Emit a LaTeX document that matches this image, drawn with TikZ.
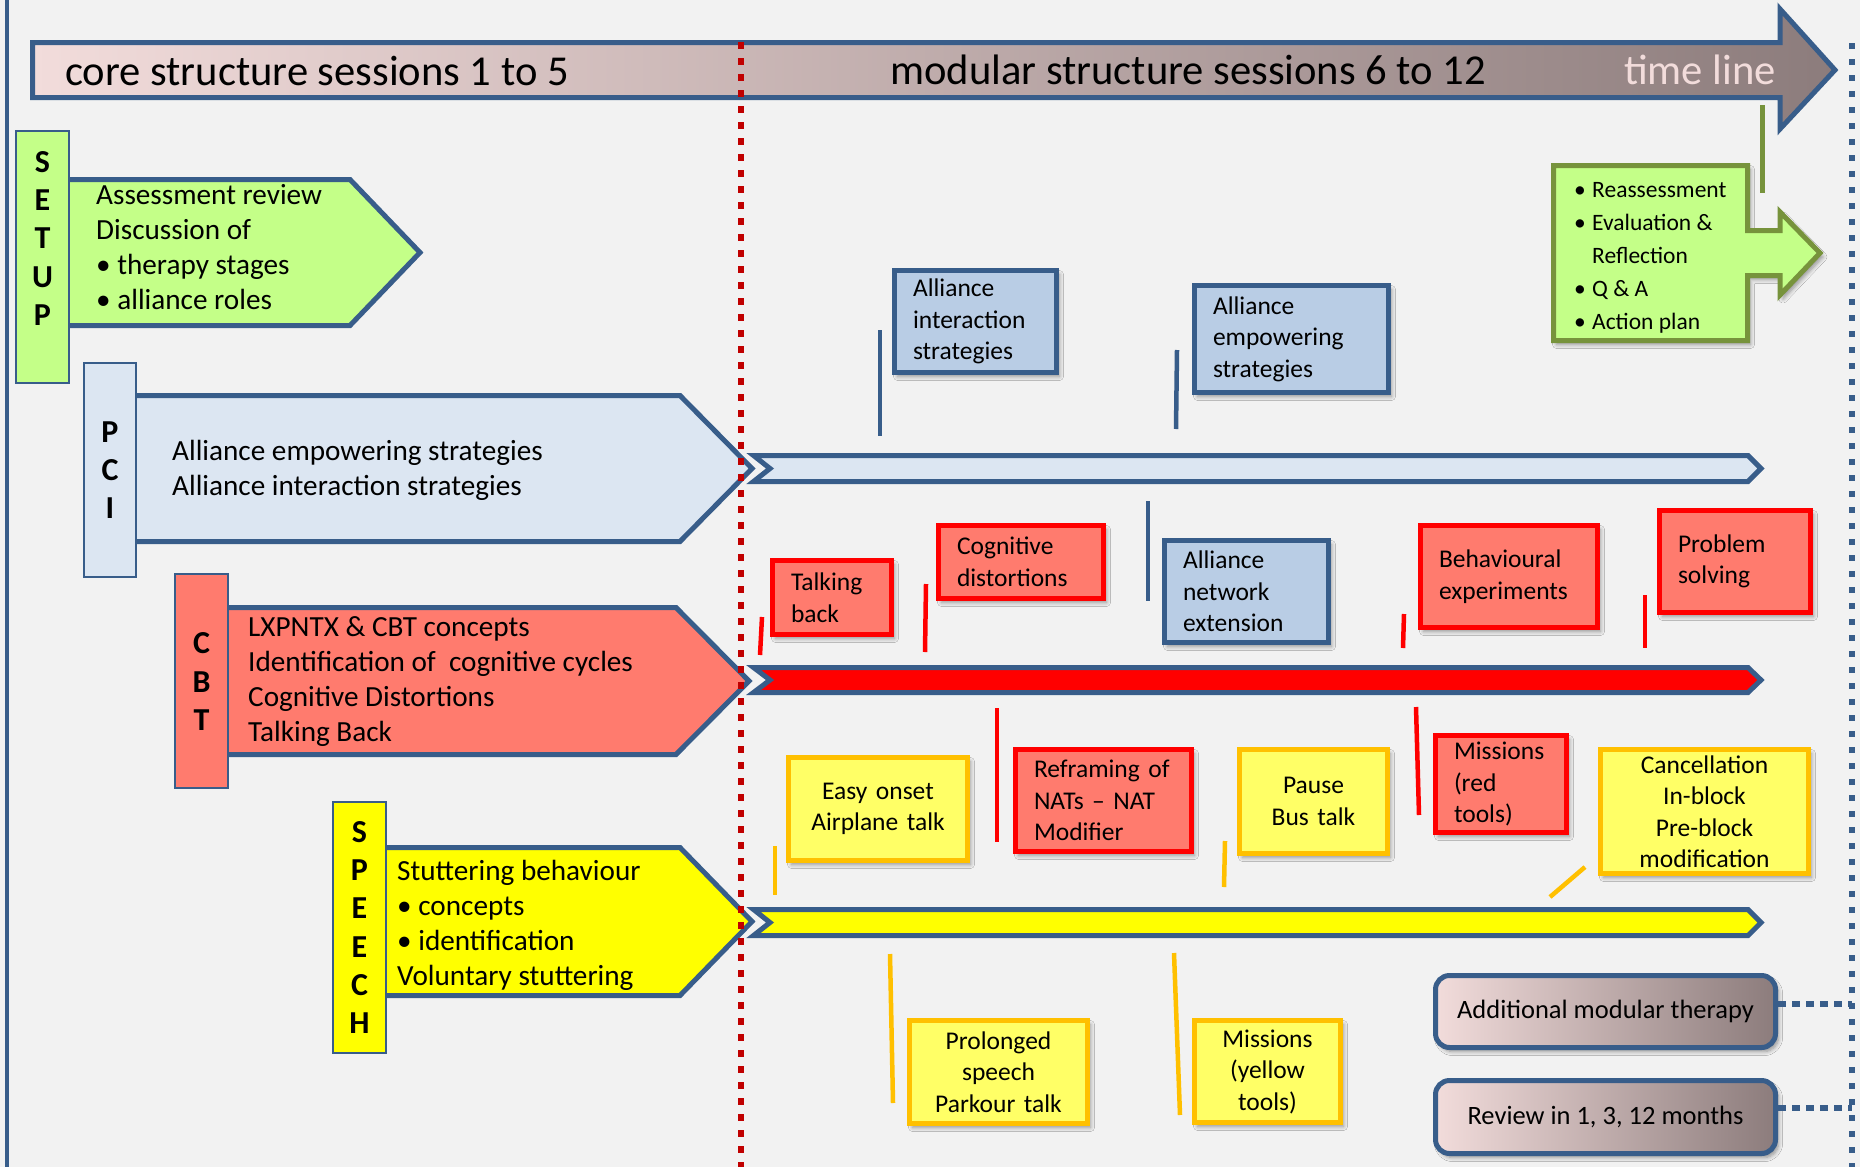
\documentclass[tikz,border=0pt]{standalone}
\usepackage{fontspec}
\setmainfont{Carlito}
\usetikzlibrary{shadows.blur}
\definecolor{bg}{HTML}{F2F2F2}
\definecolor{bblue}{HTML}{385D8A}
\definecolor{lblue}{HTML}{DCE6F2}
\definecolor{mblue}{HTML}{B9CDE5}
\definecolor{lgreen}{HTML}{C4FF88}
\definecolor{olive}{HTML}{77933C}
\definecolor{salmon}{HTML}{FF7B6E}
\definecolor{bred}{HTML}{FF0000}
\definecolor{dred}{HTML}{C00000}
\definecolor{lyellow}{HTML}{FFFF66}
\definecolor{byellow}{HTML}{FFFF00}
\definecolor{orangeb}{HTML}{FFC000}
\definecolor{gradL}{HTML}{F2DCDB}
\definecolor{gradR}{HTML}{8C7C7C}
\begin{document}
\begin{tikzpicture}[x=1pt, y=-1pt, line join=miter,
  shad/.style={blur shadow={shadow xshift=3pt, shadow yshift=-4pt, shadow blur steps=6, shadow blur radius=4pt, shadow opacity=40}},
  bbox/.style={draw=bblue, fill=mblue, line width=5pt, inner xsep=18.5pt, inner ysep=0pt, align=left, font=\fontsize{25.5}{31.5}\selectfont, shad},
  rbox/.style={bbox, draw=bred, fill=salmon},
  ybox/.style={bbox, draw=orangeb, fill=lyellow, align=center},
  rnd/.style={draw=bblue, line width=5pt, rounded corners=14pt, left color=gradL, right color=gradR, font=\fontsize{26.5}{31}\selectfont, inner sep=0pt, shad},
  pent/.style={draw=bblue, line width=5pt},
  lblbox/.style={draw=bblue, line width=2pt},
  lbltxt/.style={font=\fontsize{32}{38.25}\selectfont\bfseries, align=center, inner sep=0pt},
  arrtxt/.style={font=\fontsize{29.2}{35}\selectfont, align=left, inner sep=0pt, anchor=west},
  ttl/.style={font=\fontsize{42.6}{50}\selectfont, inner sep=0pt},
  ldb/.style={bblue, line width=4.5pt},
  ldr/.style={bred, line width=4.5pt},
  ldy/.style={orangeb, line width=4.5pt},
  ldg/.style={olive, line width=5pt},
  bar/.style={draw=bblue, line width=5pt}
]
% background
\fill[bg] (0,0) rectangle (1860,1167);
\useasboundingbox (0,0) rectangle (1860,1167);

% left frame line
\draw[bblue, line width=3.5pt] (7,0) -- (7,1167);

% time line arrow
\path[draw=bblue, line width=5pt, left color=gradL, right color=gradR]
  (32.5,42.5) -- (1780,42.5) -- (1780,9) -- (1835,70) -- (1780,129) -- (1780,97.5) -- (32.5,97.5) -- cycle;
\node[ttl, anchor=base west] (tcore) at (65,85) {core structure sessions 1 to 5};
\node[ttl, anchor=base west] (tmod) at (890,84) {modular structure sessions 6 to 12};
\node[ttl, anchor=base east, text=gradL] (tline) at (1776,84) {time line};

% big pentagon arrows
\path[pent, fill=lgreen] (60,179.5) -- (350,179.5) -- (420,252.5) -- (350,325.5) -- (60,325.5) -- cycle;
\path[pent, fill=lblue] (128,395.5) -- (680,395.5) -- (752,468.5) -- (680,541.5) -- (128,541.5) -- cycle;
\path[pent, fill=salmon] (220,607.5) -- (676,607.5) -- (749,681) -- (676,754.5) -- (220,754.5) -- cycle;
\path[pent, fill=byellow] (378,847.5) -- (680,847.5) -- (752,921.5) -- (680,995.5) -- (378,995.5) -- cycle;

\node[arrtxt] (setuptext) at (96,247) {Assessment review\\Discussion of\\• therapy stages\\• alliance roles};
\node[arrtxt] (pcitext) at (172,470) {Alliance empowering strategies\\Alliance interaction strategies};
\node[arrtxt] (cbttext) at (248,682) {LXPNTX \& CBT concepts\\Identification of~ cognitive cycles\\Cognitive Distortions\\Talking Back};
\node[arrtxt] (speechtext) at (397,925) {Stuttering behaviour\\• concepts\\• identification\\Voluntary stuttering};

% vertical labels
\path[lblbox, fill=lgreen] (16,131) rectangle (69,383);
\node[lbltxt] (setuplbl) at (42.5,238.5) {S\\E\\T\\U\\P};
\path[lblbox, fill=lblue] (84,363) rectangle (136,577);
\node[lbltxt] (pcilbl) at (110,470) {P\\C\\I};
\path[lblbox, fill=salmon] (175,574) rectangle (228,788);
\node[lbltxt] (cbtlbl) at (201.5,681.5) {C\\B\\T};
\path[lblbox, fill=byellow] (333,802) rectangle (386,1053);
\node[lbltxt] (speechlbl) at (359.5,927.5) {S\\P\\E\\E\\C\\H};

% dotted division lines
\draw[dred, line width=6.5pt, dash pattern=on 7pt off 9pt] (741,42) -- (741,1167);
\draw[bblue, line width=5.5pt, dash pattern=on 6pt off 10pt] (1852,43) -- (1852,1167);
\coordinate (rdot1) at (1852,1004);
\coordinate (rdot2) at (1852,1108);

% module bars
\path[bar, fill=lblue] (753.5,455.5) -- (1748,455.5) -- (1761,468.5) -- (1748,481.5) -- (753.5,481.5) -- (770,468.5) -- cycle;
\path[bar, fill=bred] (753.5,667.5) -- (1748,667.5) -- (1761,680) -- (1748,692.5) -- (753.5,692.5) -- (770,680) -- cycle;
\path[bar, fill=byellow] (753.5,909.5) -- (1748,909.5) -- (1761,922.5) -- (1748,935.5) -- (753.5,935.5) -- (770,922.5) -- cycle;

% leader marks
\draw[ldb] (880,330) -- (880,436);
\draw[ldb] (1177,350) -- (1176,429);
\draw[ldb] (1148,501) -- (1148,601);
\draw[ldr] (762,617) -- (760,655);
\draw[ldr] (926,584) -- (925,652);
\draw[ldr] (1404,614) -- (1403,648);
\draw[ldr] (1645,595) -- (1645,648);
\draw[ldr] (997,708) -- (997,842);
\draw[ldr] (1416,707) -- (1419,815);
\draw[ldy] (775,846) -- (775,895);
\draw[ldy] (1225,841) -- (1224,887);
\draw[ldy] (1585,867) -- (1550,897);
\draw[ldy] (890,954) -- (893,1103);
\draw[ldy] (1174,953) -- (1180,1115);
\draw[ldg] (1762,105) -- (1762,193);

% blue boxes
\node[bbox, text width=125pt, minimum height=102pt] (ais) at (975.5,321.5) {Alliance\\interaction\\strategies};
\node[bbox, text width=157pt, minimum height=107pt] (aes) at (1291.5,339) {Alliance\\empowering\\strategies};
\node[bbox, text width=127pt, minimum height=102pt] (ane) at (1246.5,591.5) {Alliance\\network\\extension};

% red boxes
\node[rbox, text width=82pt, minimum height=74pt] (tb) at (832,597.5) {Talking\\back};
\node[rbox, text width=128pt, minimum height=73pt] (cd) at (1021,562) {Cognitive\\distortions};
\node[rbox, text width=140pt, minimum height=102pt] (be) at (1509,576.5) {Behavioural\\experiments};
\node[rbox, text width=114pt, minimum height=102pt] (ps) at (1735,561.5) {Problem\\solving};
\node[rbox, text width=139pt, minimum height=102pt] (rn) at (1103.5,800.5) {Reframing of\\NATs – NAT\\Modifier};
\node[rbox, text width=94pt, minimum height=97pt] (mr) at (1501,784) {Missions\\(red\\tools)};

% yellow boxes
\node[ybox, text width=142pt, minimum height=103pt] (eo) at (878,809) {Easy onset\\Airplane talk};
\node[ybox, text width=111pt, minimum height=104pt] (pb) at (1313.5,801.5) {Pause\\Bus talk};
\node[ybox, text width=171pt, minimum height=124pt] (ca) at (1704.5,811.5) {Cancellation\\In-block\\Pre-block\\modification};
\node[ybox, text width=141pt, minimum height=103pt] (pr) at (998.5,1072) {Prolonged\\speech\\Parkour talk};
\node[ybox, text width=109pt, minimum height=102pt] (my) at (1267.5,1071.5) {Missions\\(yellow\\tools)};

% green review callout
\path[draw=olive, fill=lgreen, line width=5pt, shad]
  (1553.5,165.5) -- (1747.5,165.5) -- (1747.5,230.5) -- (1780,230.5) -- (1780,212) -- (1820,253) -- (1780,295) -- (1780,275.5) -- (1747.5,275.5) -- (1747.5,340.5) -- (1553.5,340.5) -- cycle;
\node[font=\fontsize{23.5}{33}\selectfont, align=left, inner sep=0pt, anchor=west] (revtext) at (1574,258)
  {\makebox[18pt][l]{•}Reassessment\\\makebox[18pt][l]{•}Evaluation \&\\\makebox[18pt][l]{}Reflection\\\makebox[18pt][l]{•}Q \& A\\\makebox[18pt][l]{•}Action plan};

% follow-up rounded boxes
\node[rnd, minimum width=340pt, minimum height=72pt] (amt) at (1605.5,1011.5) {Additional modular therapy};
\node[rnd, minimum width=340pt, minimum height=73pt] (rev) at (1605.5,1117) {Review in 1, 3, 12 months};
\draw[bblue, line width=5.5pt, dash pattern=on 8pt off 6pt] (amt.east |- rdot1) -- (rdot1);
\draw[bblue, line width=5.5pt, dash pattern=on 8pt off 6pt] (rev.east |- rdot2) -- (rdot2);
\end{tikzpicture}
\end{document}
